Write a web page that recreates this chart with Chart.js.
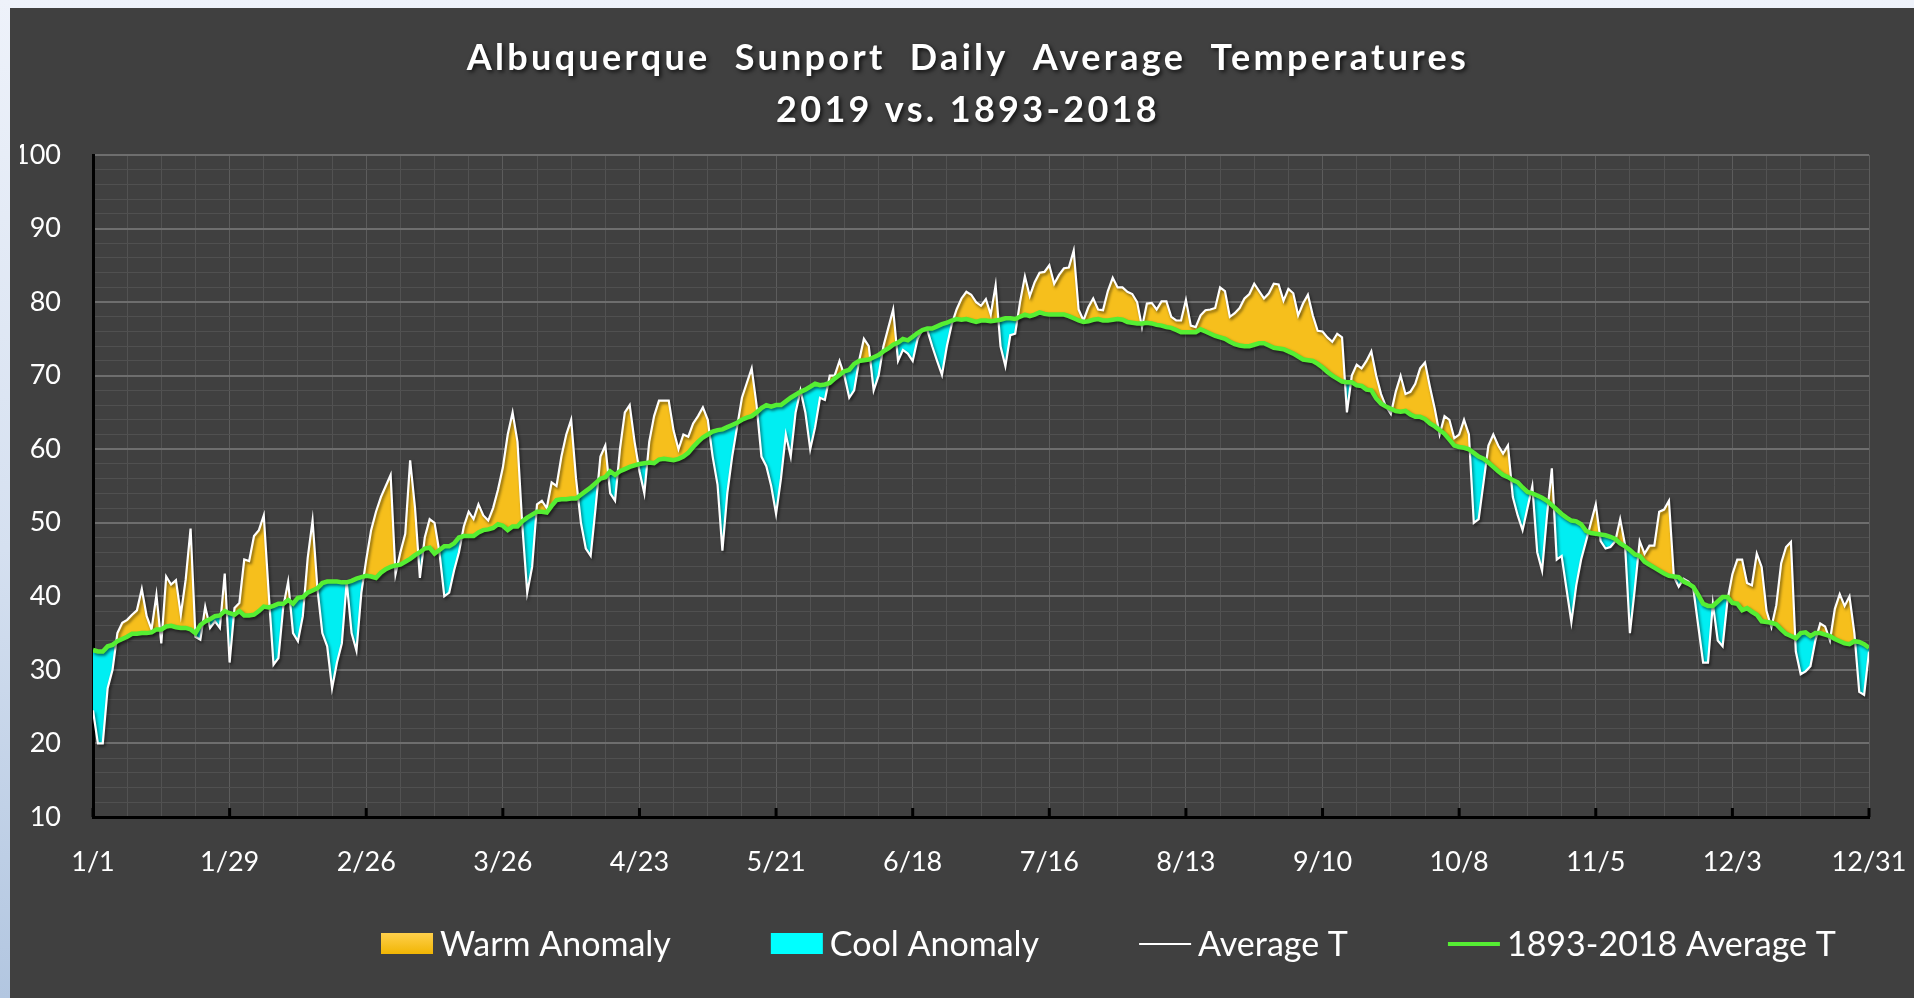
<!DOCTYPE html>
<html>
<head>
<meta charset="utf-8">
<title>Albuquerque Sunport Daily Average Temperatures</title>
<script src="https://cdn.jsdelivr.net/npm/chart.js@4.4.1/dist/chart.umd.min.js"></script>
<style>
  html, body { margin: 0; padding: 0; }
  body {
    width: 1914px; height: 998px; overflow: hidden;
    background: linear-gradient(to bottom, #eef2fa 0%, #d5e0f0 55%, #b2c6e0 100%);
  }
  #wrap { position: absolute; left: 10px; top: 8px; width: 1904px; height: 990px; background: #404040; }
  canvas { display: block; }
</style>
</head>
<body>
<div id="wrap"><canvas id="myChart" width="1904" height="990"></canvas></div>
<script>
// x axis labels, one every 28 days starting 1/1
const tickLabels = ['1/1', '1/29', '2/26', '3/26', '4/23', '5/21', '6/18', '7/16', '8/13', '9/10', '10/8', '11/5', '12/3', '12/31'];

// 2019 daily average temperature (F), day 0 = Jan 1
const avgT = [
  24.5, 20, 20, 27.5, 30, 35, 36.4, 36.8, 37.5, 38.1,
  41, 37.3, 35.5, 40.2, 33.6, 42.7, 41.6, 42.2, 37.5, 42.3,
  49.2, 34.5, 34.1, 38.6, 35.7, 36.6, 35.7, 43.1, 31, 38.4,
  39.1, 45, 44.8, 48.2, 49, 51, 40.5, 30.7, 31.6, 38.6,
  42, 35, 33.9, 37.3, 45.2, 50.3, 41, 35, 33.2, 27.5,
  31, 33.6, 42, 35, 32.6, 40.5, 45, 49, 51.5, 53.5,
  55, 56.5, 43, 46, 48.5, 58.5, 52, 42.5, 48, 50.5,
  50, 46, 40, 40.5, 43.5, 46, 49.5, 51.5, 50.5, 52.5,
  51, 50.3, 52, 54.5, 57.5, 62, 65, 61, 49.5, 40.5,
  44, 52.5, 53, 52, 55.5, 55, 59, 62, 64, 56,
  50, 46.5, 45.5, 52, 59, 60.5, 54, 53, 60, 65,
  66, 61, 57, 54, 61, 64.5, 66.6, 66.6, 66.6, 62.5,
  60, 62, 61.7, 63.5, 64.5, 65.7, 64, 59, 55.2, 46.2,
  54, 59, 63, 67, 69, 71, 66, 59, 57.7, 55,
  51.2, 56, 62, 59, 65, 68, 65, 60, 63, 67,
  66.7, 70, 70, 72, 70, 67, 68, 72, 75, 74,
  68, 70, 74, 76.5, 79, 72, 73.5, 73, 72, 75,
  76.2, 76.2, 74, 72, 70.1, 74, 77, 79, 80.5, 81.4,
  81, 80, 79.5, 80.4, 78.3, 82.3, 74, 71.3, 75.5, 75.7,
  80, 83.5, 80.8, 82.7, 84, 84.1, 85, 82.5, 83.7, 84.6,
  84.7, 87, 79, 77.5, 79.3, 80.5, 79, 78.9, 81.5, 83.3,
  82, 82, 81.4, 81.1, 80, 76.6, 79.8, 79.9, 79, 80.1,
  80.1, 78, 77.5, 77.5, 80.3, 76.8, 76.6, 78.2, 78.9, 79,
  79.2, 82, 81.5, 78, 78.5, 79.2, 80.5, 81.1, 82.5, 81.5,
  80.5, 81.2, 82.5, 82.4, 80.2, 81.8, 81.2, 78.2, 79.8, 81,
  78.2, 76.1, 76, 75.2, 74.6, 75.7, 75.2, 65, 70, 71.5,
  71, 72, 73.3, 70, 67.5, 65.8, 64.8, 67.8, 70, 67.5,
  67.8, 68.9, 71, 71.8, 68.5, 65.5, 62, 64.5, 64, 61.5,
  62, 64, 62, 50, 50.5, 55.5, 60.5, 62, 60.5, 59.4,
  60.5, 53.5, 51, 49, 52, 55, 46, 43.5, 51, 57.4,
  45, 45.5, 41, 36.5, 41.5, 45, 47.5, 50, 52.5, 47.5,
  46.5, 46.7, 47.5, 50.5, 47, 35, 41, 47.5, 45.8, 46.9,
  46.9, 51.5, 51.8, 53, 42.7, 41.3, 42.4, 42, 41, 36,
  31, 31, 39, 34, 33.2, 39.5, 43, 45, 45, 41.8,
  41.5, 45.8, 44, 38, 35.8, 38.8, 44.5, 46.7, 47.4, 32.5,
  29.4, 29.8, 30.5, 34, 36.3, 35.9, 34, 38.3, 40.3, 38.7,
  40, 35, 27, 26.6, 32.5
];

// 1893-2018 daily normal
const normalT = [
  32.7, 32.5, 32.5, 33.2, 33.4, 33.9, 34.2, 34.5, 34.9, 34.9,
  35, 35, 35.1, 35.5, 35.5, 35.9, 36, 35.8, 35.7, 35.7,
  35.5, 35, 36.1, 36.6, 36.9, 37.3, 37.4, 38, 37.7, 37.5,
  38, 37.4, 37.4, 37.5, 38, 38.6, 38.5, 38.7, 39, 39,
  39.5, 39, 39.8, 39.9, 40.5, 40.8, 41.1, 41.8, 42, 42,
  42, 41.9, 41.9, 42.1, 42.4, 42.6, 42.8, 42.7, 42.5, 43.2,
  43.7, 44, 44.2, 44.3, 44.7, 45.1, 45.6, 46, 46.5, 46.6,
  45.8, 46.3, 46.8, 46.8, 47.2, 48, 48.2, 48.2, 48.2, 48.7,
  49, 49.1, 49.3, 49.8, 49.6, 49, 49.5, 49.5, 50.2, 50.7,
  51.1, 51.5, 51.5, 51.4, 52.3, 53.1, 53.2, 53.2, 53.3, 53.3,
  53.8, 54.3, 54.8, 55.4, 56, 56.2, 57, 56.5, 57, 57.3,
  57.6, 57.8, 58, 58.1, 58.2, 58.1, 58.6, 58.7, 58.6, 58.5,
  58.7, 59, 59.5, 60.3, 61, 61.6, 62, 62.4, 62.6, 62.7,
  63, 63.3, 63.6, 64, 64.3, 64.5, 65, 65.6, 66, 65.8,
  66, 66, 66.5, 67, 67.4, 67.8, 68.1, 68.5, 68.9, 68.7,
  68.8, 69, 69.6, 70.1, 70.6, 70.8, 71.6, 72, 72.1, 72.2,
  72.5, 72.8, 73.3, 73.7, 74.2, 74.5, 75, 74.8, 75.3, 75.8,
  76.2, 76.4, 76.4, 76.7, 77, 77.2, 77.5, 77.7, 77.6, 77.7,
  77.5, 77.3, 77.5, 77.5, 77.4, 77.5, 77.6, 77.8, 77.8, 77.7,
  78, 78.3, 78.1, 78.3, 78.6, 78.4, 78.3, 78.3, 78.3, 78.3,
  78.1, 77.8, 77.5, 77.3, 77.4, 77.6, 77.7, 77.5, 77.5, 77.6,
  77.7, 77.6, 77.3, 77.2, 77.1, 77.1, 77.2, 77.1, 76.9, 76.8,
  76.6, 76.5, 76.2, 75.9, 75.9, 75.9, 75.9, 76.3, 76, 75.7,
  75.4, 75.2, 75, 74.6, 74.3, 74.1, 74, 74, 74.2, 74.4,
  74.4, 74.1, 73.8, 73.7, 73.6, 73.3, 73, 72.6, 72.2, 72.1,
  72, 71.6, 71.1, 70.5, 70, 69.6, 69.2, 69.1, 69.1, 68.7,
  68.6, 68.1, 68, 66.9, 66.2, 65.8, 65.5, 65.2, 65.1, 65.2,
  64.7, 64.4, 64.4, 64.1, 63.5, 63.1, 62.6, 62.1, 61.3, 60.5,
  60.3, 60.2, 60, 59.5, 59, 58.7, 58.2, 57.6, 57, 56.5,
  56.2, 55.8, 55.5, 54.8, 54.2, 54, 53.7, 53.4, 53, 52.4,
  51.8, 51.2, 50.7, 50.3, 50.2, 49.8, 48.9, 48.6, 48.5, 48.4,
  48.3, 48.1, 47.8, 47.2, 46.8, 46.3, 45.7, 45.5, 44.7, 44.3,
  43.9, 43.5, 43.1, 42.8, 42.7, 42.6, 42, 41.7, 41.3, 40.2,
  39, 38.7, 38.7, 39.3, 39.9, 39.9, 39.1, 39, 38.1, 38.4,
  37.9, 37.5, 36.6, 36.5, 36.4, 36.2, 35.5, 34.9, 34.6, 34.3,
  35, 35.1, 34.6, 35, 35, 34.8, 34.6, 34.2, 33.9, 33.6,
  33.5, 33.9, 33.8, 33.5, 33
];

const legendNames = ['Warm Anomaly', 'Cool Anomaly', 'Average T', '1893-2018 Average T'];
const titleLines = ['Albuquerque  Sunport  Daily  Average  Temperatures', '2019 vs. 1893-2018'];

const WARM = '#f6bf1c';
const COOL = '#00eef2';
const GREEN = '#55ee33';
const FONT = 'Lato, "Open Sans", sans-serif';

// soft drop shadow under the two lines (fill is drawn before this by the filler)
const lineShadow = {
    id: 'lineShadow',
    beforeDatasetDraw(chart) {
        const ctx = chart.ctx;
        ctx.save();
        ctx.shadowColor = 'rgba(0,0,0,0.55)';
        ctx.shadowBlur = 3;
        ctx.shadowOffsetX = 1.5;
        ctx.shadowOffsetY = 2;
    },
    afterDatasetDraw(chart) {
        chart.ctx.restore();
    }
};

// short upward tick marks on the date axis
const tickMarks = {
    id: 'tickMarks',
    afterDatasetsDraw(chart) {
        const {ctx, chartArea, scales} = chart;
        ctx.save();
        ctx.strokeStyle = '#000';
        ctx.lineWidth = 3;
        tickLabels.forEach((t, i) => {
            const px = scales.x.getPixelForValue(i * 28);
            ctx.beginPath();
            ctx.moveTo(px, chartArea.bottom);
            ctx.lineTo(px, chartArea.bottom - 9);
            ctx.stroke();
        });
        ctx.restore();
    }
};

// spaced-out bold title with shadow
const bigTitle = {
    id: 'bigTitle',
    afterDraw(chart) {
        const ctx = chart.ctx;
        ctx.save();
        ctx.font = `bold 36px ${FONT}`;
        ctx.letterSpacing = '3.3px';
        ctx.fillStyle = '#fff';
        ctx.textAlign = 'center';
        ctx.textBaseline = 'middle';
        ctx.shadowColor = 'rgba(0,0,0,0.75)';
        ctx.shadowBlur = 4;
        ctx.shadowOffsetX = 2;
        ctx.shadowOffsetY = 2;
        ctx.fillText(titleLines[0], chart.width / 2 + 6, 50);
        ctx.fillText(titleLines[1], chart.width / 2 + 6, 102);
        ctx.restore();
    }
};

// legend row under the axis
const bottomLegend = {
    id: 'bottomLegend',
    afterDraw(chart) {
        const ctx = chart.ctx;
        ctx.save();
        ctx.font = `34px ${FONT}`;
        ctx.textBaseline = 'middle';
        const y = 936;
        let x = 371;
        legendNames.forEach((name, i) => {
            if (i === 0) {
                const g = ctx.createLinearGradient(0, y - 11, 0, y + 11);
                g.addColorStop(0, '#ffd04c');
                g.addColorStop(1, '#f0b400');
                ctx.fillStyle = g;
                ctx.fillRect(x, y - 11, 52, 21);
            } else if (i === 1) {
                ctx.fillStyle = '#00ffff';
                ctx.fillRect(x, y - 11, 52, 21);
            } else {
                ctx.strokeStyle = i === 2 ? '#fff' : GREEN;
                ctx.lineWidth = i === 2 ? 2 : 4;
                ctx.beginPath();
                ctx.moveTo(x, y);
                ctx.lineTo(x + 52, y);
                ctx.stroke();
            }
            x += 52 + 7;
            ctx.fillStyle = '#fff';
            ctx.fillText(name, x, y + 1);
            x += ctx.measureText(name).width + 100;
        });
        ctx.restore();
    }
};

new Chart(document.getElementById('myChart'), {
    type: 'line',
    data: {
        datasets: [
            {
                label: legendNames[3],
                data: normalT.map((y, i) => ({x: i, y})),
                borderColor: GREEN,
                borderWidth: 4.5,
                pointRadius: 0,
                fill: false
            },
            {
                label: legendNames[2],
                data: avgT.map((y, i) => ({x: i, y})),
                borderColor: '#ffffff',
                borderWidth: 2.2,
                pointRadius: 0,
                fill: {target: 0, above: WARM, below: COOL}
            }
        ]
    },
    options: {
        responsive: false,
        animation: false,
        devicePixelRatio: 1,
        layout: {padding: {left: 10, right: 45, top: 147, bottom: 60}},
        plugins: {
            legend: {display: false},
            tooltip: {enabled: false},
            title: {display: false}
        },
        scales: {
            x: {
                type: 'linear',
                min: 0,
                max: 364,
                // fixed axis height; the end labels may overhang the plot
                afterFit: (s) => { s.height = 121; s.paddingLeft = 0; s.paddingRight = 0; },
                ticks: {
                    stepSize: 7,
                    autoSkip: false,
                    maxRotation: 0,
                    color: '#fff',
                    padding: 29,
                    font: {family: FONT, size: 27},
                    callback: (v) => (v % 28 === 0 ? tickLabels[v / 28] : '')
                },
                grid: {
                    drawTicks: false,
                    color: (c) => (c.tick && c.tick.value % 28 === 0 ? '#5c5c5c' : '#525252'),
                    lineWidth: 1
                },
                border: {color: '#000', width: 3}
            },
            y: {
                min: 10,
                max: 100,
                afterFit: (s) => { s.width = 73; },
                ticks: {
                    stepSize: 2,
                    autoSkip: false,
                    color: '#fff',
                    padding: 32,
                    font: {family: FONT, size: 27},
                    callback: (v) => (v % 10 === 0 ? v : '')
                },
                grid: {
                    drawTicks: false,
                    color: (c) => (c.tick && c.tick.value % 10 === 0 ? '#6e6e6e' : '#505050'),
                    lineWidth: (c) => (c.tick && c.tick.value % 10 === 0 ? 2 : 1)
                },
                border: {color: '#000', width: 3}
            }
        }
    },
    plugins: [lineShadow, tickMarks, bigTitle, bottomLegend]
});
</script>
</body>
</html>
